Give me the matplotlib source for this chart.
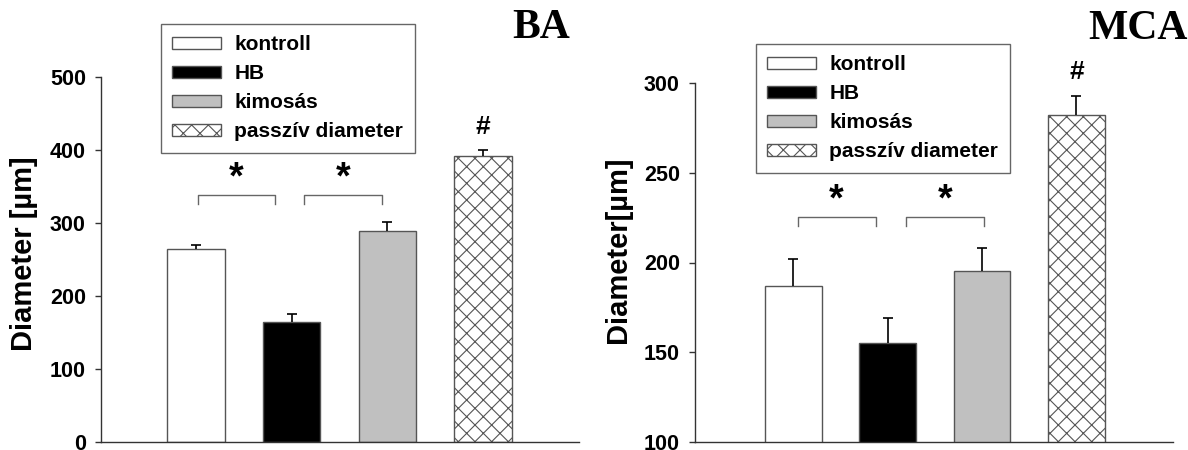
import numpy as np
import matplotlib
matplotlib.use('Agg')
import matplotlib.pyplot as plt

plt.rcParams['font.family'] = ['Liberation Sans', 'DejaVu Sans']
plt.rcParams['font.weight'] = 'bold'
plt.rcParams['hatch.color'] = '#555555'
plt.rcParams['hatch.linewidth'] = 0.8

# groups (legend labels)
groups = ['kontroll', 'HB', 'kimosás', 'passzív diameter']

# BA panel values (mean, upper SEM)
ba_mean = [264, 164, 289, 392]
ba_err = [6, 11, 12, 8]
# MCA panel values
mca_mean = [187, 155, 195, 282]
mca_err = [15, 14, 13, 11]

# significance brackets: (x start, x end, top, tip) in data units
ba_brackets = [(0.015, 0.83, 338, 326), (1.13, 1.94, 338, 326)]
mca_brackets = [(0.045, 0.87, 225.5, 220.5), (1.19, 2.02, 225.5, 220.5)]
ba_hash = 431
mca_hash = 306

face = ['white', 'black', '#c0c0c0', 'white']
hatch = [None, None, None, 'xx']


def draw_panel(ax, means, errs, brackets, hash_y, xlim, ylim, ticks, ylabel):
    x = np.arange(len(means))
    means = np.array(means)
    errs = np.array(errs)
    for i in range(len(means)):
        ax.bar(x[i], means[i], width=0.6, color=face[i], edgecolor='#555555',
               linewidth=1, hatch=hatch[i], label=groups[i], zorder=2)
    # upper error bars only
    ax.vlines(x, means, means + errs, color='black', lw=1.2, zorder=3)
    ax.plot(x, means + errs, ls='none', marker='_', markersize=7.5,
            markeredgewidth=1.2, color='black', zorder=3)
    for x0, x1, top, tip in brackets:
        ax.plot([x0, x0, x1, x1], [tip, top, top, tip], color='#666666', lw=1)
        ax.annotate('*', xy=((x0 + x1) / 2, top), xytext=(0, -1),
                    textcoords='offset points', ha='center', va='bottom',
                    fontsize=27, fontweight='bold')
    ax.text(x[-1], hash_y, '#', ha='center', va='center', fontsize=19,
            fontweight='bold')
    ax.set_xlim(*xlim)
    ax.set_ylim(*ylim)
    ax.set_yticks(ticks)
    ax.set_xticks([])
    ax.spines['top'].set_visible(False)
    ax.spines['right'].set_visible(False)
    for s in ['left', 'bottom']:
        ax.spines[s].set_color('#333333')
        ax.spines[s].set_linewidth(1)
    ax.tick_params(axis='y', direction='out', length=4.5, width=1,
                   color='#333333', labelsize=15.5, pad=6)
    for lab in ax.get_yticklabels():
        lab.set_fontweight('bold')
    ax.set_ylabel(ylabel, fontsize=21, fontweight='bold')


fig = plt.figure(figsize=(11.88, 4.5), dpi=100)
ax1 = fig.add_axes([100.5 / 1188, 8 / 450, 478 / 1188, 365 / 450])
ax2 = fig.add_axes([694.5 / 1188, 8 / 450, 478 / 1188, 359 / 450])

draw_panel(ax1, ba_mean, ba_err, ba_brackets, ba_hash, (-1, 4), (0, 500),
           [0, 100, 200, 300, 400, 500], 'Diameter [µm]')
draw_panel(ax2, mca_mean, mca_err, mca_brackets, mca_hash, (-1.05, 4.02),
           (100, 300), [100, 150, 200, 250, 300], 'Diameter[µm]')
ax1.yaxis.set_label_coords(-0.131, 0.515)
ax2.yaxis.set_label_coords(-0.131, 0.535)

for ax, anchor in [(ax1, (161 / 1188, 1 - 24 / 450)),
                   (ax2, (756 / 1188, 1 - 44 / 450))]:
    leg = ax.legend(loc='upper left', bbox_to_anchor=anchor,
                    bbox_transform=fig.transFigure, borderaxespad=0,
                    fancybox=False, framealpha=1, edgecolor='#666666',
                    prop={'size': 15, 'weight': 'bold'}, handlelength=2.35,
                    handleheight=0.48, handletextpad=0.62, labelspacing=0.48,
                    borderpad=0.55)
    leg.get_frame().set_linewidth(1)

fig.text(541 / 1188, 1 - 28 / 450, 'BA', family='Liberation Serif',
         fontweight='bold', fontsize=30, ha='center', va='center')
fig.text(1138 / 1188, 1 - 29 / 450, 'MCA', family='Liberation Serif',
         fontweight='bold', fontsize=30, ha='center', va='center')

fig.savefig('out.png', dpi=100)
